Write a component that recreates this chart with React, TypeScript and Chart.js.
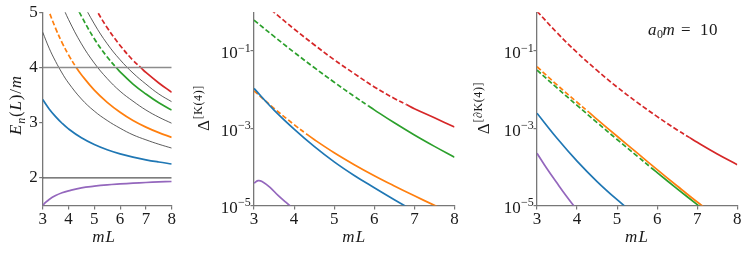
import React, { useEffect, useRef } from 'react';
import { Chart, registerables } from 'chart.js';

Chart.register(...registerables);

// ---------------- data ----------------
const X_TICKS = [3, 4, 5, 6, 7, 8];
const E_TICKS = [2, 3, 4, 5];
const LOG_TICKS = [1e-5, 1e-3, 1e-1];
const THRESHOLDS = [2, 4];
const THRESH_L = [3, 8];
// L where orange / green / red cross the inelastic threshold (dashed before)
const CUT_ORANGE = 4.3;
const CUT_GREEN = 5.85;
const CUT_RED = 6.8;

// Panel 1: E_n(L)/m
const P1_L = [3, 3.25, 3.5, 3.75, 4, 4.5, 5, 5.5, 6, 6.5, 7, 7.5, 8];
const P1_FREE1 = [4.64, 4.35, 4.11, 3.9, 3.72, 3.43, 3.21, 3.04, 2.9, 2.78, 2.69, 2.61, 2.54];
const P1_FREE2 = [6.25, 5.82, 5.46, 5.14, 4.87, 4.43, 4.08, 3.8, 3.57, 3.39, 3.23, 3.1, 2.99];
const P1_FREE3 = [7.53, 6.99, 6.53, 6.14, 5.8, 5.23, 4.79, 4.43, 4.14, 3.9, 3.7, 3.52, 3.38];
const P1_BLUE = [3.42, 3.25, 3.11, 2.99, 2.888, 2.726, 2.604, 2.509, 2.435, 2.376, 2.328, 2.288, 2.252];
const P1_ORANGE_L = [3, 3.25, 3.5, 3.75, 4, 4.3, 4.5, 5, 5.5, 6, 6.5, 7, 7.5, 8];
const P1_ORANGE = [5.36, 5.01, 4.71, 4.45, 4.23, 4.0, 3.87, 3.59, 3.37, 3.19, 3.04, 2.92, 2.82, 2.735];
const P1_GREEN_L = [3.75, 4, 4.25, 4.5, 5, 5.5, 5.85, 6, 6.5, 7, 7.5, 8];
const P1_GREEN = [5.76, 5.45, 5.17, 4.93, 4.52, 4.19, 4.0, 3.92, 3.7, 3.52, 3.36, 3.23];
const P1_RED_L = [4.5, 4.75, 5, 5.5, 6, 6.5, 6.8, 7, 7.5, 8];
const P1_RED = [5.59, 5.34, 5.11, 4.72, 4.4, 4.13, 4.0, 3.91, 3.72, 3.55];
const P1_PURPLE_L = [3, 3.1, 3.25, 3.5, 3.75, 4, 4.5, 5, 5.5, 6, 6.5, 7, 7.5, 8];
const P1_PURPLE = [1.5, 1.55, 1.61, 1.68, 1.73, 1.765, 1.82, 1.85, 1.873, 1.89, 1.905, 1.917, 1.927, 1.935];

// Panel 2: Delta^[K(4)]
const P2_RED_L = [3, 3.5, 4, 4.5, 5, 5.5, 6, 6.5, 6.8, 7, 7.5, 8];
const P2_RED = [2.8, 1.0, 0.37, 0.145, 0.059, 0.026, 0.0117, 0.0059, 0.0041, 0.0032, 0.00186, 0.00107];
const P2_GREEN_L = [3, 3.5, 4, 4.5, 5, 5.5, 5.85, 6, 6.5, 7, 7.5, 8];
const P2_GREEN = [0.63, 0.237, 0.0923, 0.0372, 0.0155, 0.00668, 0.0038, 0.00299, 0.00138, 0.000668, 0.000339, 0.000178];
const P2_BLUE_L = [3, 3.5, 4, 4.5, 5, 5.5, 6, 6.5, 7];
const P2_BLUE = [0.0107, 0.00295, 0.00095, 0.000339, 0.000135, 6.0e-5, 2.88e-5, 1.41e-5, 7.1e-6];
const P2_ORANGE_L = [3, 3.5, 4, 4.3, 4.5, 5, 5.5, 6, 6.5, 7, 7.5, 8];
const P2_ORANGE = [0.0093, 0.00327, 0.00124, 0.00072, 0.00051, 0.000232, 0.000114, 5.9e-5, 3.2e-5, 1.78e-5, 1.01e-5, 5.8e-6];
const P2_PURPLE_L = [3, 3.1, 3.2, 3.4, 3.6, 3.8, 4];
const P2_PURPLE = [3.8e-5, 4.4e-5, 4.2e-5, 2.95e-5, 1.82e-5, 1.2e-5, 7.9e-6];

// Panel 3: Delta^[dK(4)], a0 m = 10
const P3_RED_L = [3, 3.5, 4, 4.5, 5, 5.5, 6, 6.5, 6.8, 7, 7.5, 8];
const P3_RED = [1.07, 0.295, 0.0912, 0.0313, 0.0116, 0.00468, 0.002, 0.000902, 0.00058, 0.000432, 0.000216, 0.000114];
const P3_ORANGE_L = [3, 3.5, 4, 4.3, 4.5, 5, 5.5, 6, 6.5, 7, 7.5];
const P3_ORANGE = [0.039, 0.0132, 0.0047, 0.00257, 0.0017, 0.00062, 0.000229, 8.5e-5, 3.2e-5, 1.23e-5, 5e-6];
const P3_GREEN_L = [3, 3.5, 4, 4.5, 5, 5.5, 5.85, 6, 6.5, 7, 7.5];
const P3_GREEN = [0.032, 0.011, 0.0039, 0.0014, 0.00051, 0.00019, 9.5e-5, 7.1e-5, 2.7e-5, 1.05e-5, 4e-6];
const P3_BLUE_L = [3, 3.5, 4, 4.5, 5, 5.5];
const P3_BLUE = [0.00245, 0.00055, 0.000141, 4.17e-5, 1.41e-5, 5.2e-6];
const P3_PURPLE_L = [3, 3.25, 3.5, 3.75, 4];
const P3_PURPLE = [2.24e-4, 8.9e-5, 3.8e-5, 1.66e-5, 7.6e-6];

// ---------------- styling / layout ----------------
const W = 748;
const H = 255;
const SERIF = '"Liberation Serif", "DejaVu Serif", serif';
const TEXT = '#1a1a1a';
const AXIS = '#777777';
const BLUE = '#1f77b4';
const ORANGE = '#ff7f0e';
const GREEN = '#2ca02c';
const RED = '#d62728';
const PURPLE = '#9467bd';
const DASH = [5, 2.5];
const LW = 1.7;
const FS = 17;
const FS_SMALL = 12;
const PLOT_TOP = 12.3;
const PLOT_BOTTOM = 205.5;
const Y_AXIS_W = 30;
const PANELS = [
  { left: 42.7, right: 171.7 },
  { left: 254, right: 454.5 },
  { left: 537, right: 737.3 },
];

const F = (size: number, italic = false) => `${italic ? 'italic ' : ''}${size}px ${SERIF}`;

type Piece = [string, string, number?];

function drawPieces(ctx: CanvasRenderingContext2D, pieces: Piece[], x: number, y: number, align: 'left' | 'center' | 'right', spacing = 0) {
  const widths = pieces.map(([t, f]) => {
    ctx.font = f;
    return ctx.measureText(t).width + spacing * t.length;
  });
  const total = widths.reduce((a, b) => a + b, 0);
  let cx = align === 'center' ? x - total / 2 : align === 'right' ? x - total : x;
  ctx.textAlign = 'left';
  ctx.textBaseline = 'alphabetic';
  (ctx as any).letterSpacing = `${spacing}px`;
  pieces.forEach(([t, f, dy], i) => {
    ctx.font = f;
    ctx.fillText(t, cx, y + (dy || 0));
    cx += widths[i];
  });
  (ctx as any).letterSpacing = '0px';
}

function drawRotated(ctx: CanvasRenderingContext2D, pieces: Piece[], x: number, y: number, spacing = 0) {
  ctx.save();
  ctx.translate(x, y);
  ctx.rotate(-Math.PI / 2);
  drawPieces(ctx, pieces, 0, 0, 'center', spacing);
  ctx.restore();
}

const pts = (xs: number[], ys: number[]) => xs.map((x, i) => ({ x, y: ys[i] }));

function line(data: any[], color: string, width: number, extra: any = {}) {
  return {
    data,
    borderColor: color,
    backgroundColor: color,
    borderWidth: width,
    pointRadius: 0,
    fill: false,
    cubicInterpolationMode: 'default',
    tension: 0.4,
    clip: 0,
    ...extra,
  };
}

const dashBeforeL = (cut: number) => ({
  segment: { borderDash: (c: any) => (c.p1.parsed.x <= cut + 1e-9 ? DASH : undefined) },
});

function xScale() {
  return {
    type: 'linear',
    min: 3,
    max: 8,
    afterBuildTicks: (s: any) => {
      s.ticks = X_TICKS.map((v) => ({ value: v }));
    },
    afterFit: (s: any) => {
      s.height = H - PLOT_BOTTOM;
    },
    ticks: { font: { family: SERIF, size: FS }, color: TEXT, padding: 0, maxRotation: 0, autoSkip: false },
    grid: { drawOnChartArea: false, drawTicks: true, tickLength: 4, color: AXIS, lineWidth: 1.2 },
    border: { display: true, color: AXIS, width: 1.3 },
  };
}

function baseOptions(panel: { left: number; right: number }, yScale: any) {
  return {
    responsive: false,
    animation: false,
    devicePixelRatio: 1,
    events: [],
    layout: {
      autoPadding: false,
      padding: { left: panel.left - Y_AXIS_W, right: W - panel.right, top: PLOT_TOP, bottom: 0 },
    },
    plugins: { legend: { display: false }, tooltip: { enabled: false } },
    scales: { x: xScale(), y: yScale },
  };
}

function logYScale() {
  return {
    type: 'logarithmic',
    min: 1e-5,
    max: 1,
    afterBuildTicks: (s: any) => {
      s.ticks = LOG_TICKS.map((v) => ({ value: v }));
    },
    afterFit: (s: any) => {
      s.width = Y_AXIS_W;
    },
    ticks: { callback: () => '', padding: 0 },
    grid: { drawOnChartArea: false, drawTicks: true, tickLength: 3.5, color: AXIS, lineWidth: 1.2 },
    border: { display: true, color: AXIS, width: 1.3 },
  };
}

function drawLogTicks(chart: any) {
  const ctx = chart.ctx as CanvasRenderingContext2D;
  const y = chart.scales.y;
  const left = chart.chartArea.left;
  ctx.fillStyle = TEXT;
  LOG_TICKS.forEach((v) => {
    const py = y.getPixelForValue(v);
    const exp = Math.round(Math.log10(v));
    const sup = (exp < 0 ? '\u2212' : '') + String(Math.abs(exp));
    ctx.font = F(FS_SMALL);
    const supW = ctx.measureText(sup).width;
    const end = left - 3.2;
    drawPieces(ctx, [['10', F(FS)]], end - supW - 0.3, py + 7.5, 'right');
    drawPieces(ctx, [[sup, F(FS_SMALL)]], end - supW, py + 0.8, 'left');
  });
}

function drawXTitle(chart: any, dx = 0) {
  const ctx = chart.ctx as CanvasRenderingContext2D;
  const a = chart.chartArea;
  ctx.fillStyle = TEXT;
  drawPieces(ctx, [['mL', F(FS, true)]], (a.left + a.right) / 2 + dx, 241.5, 'center', 1.2);
}

function makeConfigs() {
  const cfg1 = {
    type: 'line',
    data: {
      datasets: [
        line(pts(THRESH_L, [THRESHOLDS[1], THRESHOLDS[1]]), '#8c8c8c', 1.6, { tension: 0 }),
        line(pts(THRESH_L, [THRESHOLDS[0], THRESHOLDS[0]]), '#2a2a2a', 1.0, { tension: 0 }),
        line(pts(P1_L, P1_FREE1), '#333333', 0.8),
        line(pts(P1_L, P1_FREE2), '#333333', 0.8),
        line(pts(P1_L, P1_FREE3), '#333333', 0.8),
        line(pts(P1_L, P1_BLUE), BLUE, LW),
        line(pts(P1_ORANGE_L, P1_ORANGE), ORANGE, LW, dashBeforeL(CUT_ORANGE)),
        line(pts(P1_GREEN_L, P1_GREEN), GREEN, LW, dashBeforeL(CUT_GREEN)),
        line(pts(P1_RED_L, P1_RED), RED, LW, dashBeforeL(CUT_RED)),
        line(pts(P1_PURPLE_L, P1_PURPLE), PURPLE, LW),
      ],
    },
    options: baseOptions(PANELS[0], {
      type: 'linear',
      min: 1.5,
      max: 5,
      afterBuildTicks: (s: any) => {
        s.ticks = E_TICKS.map((v) => ({ value: v }));
      },
      afterFit: (s: any) => {
        s.width = Y_AXIS_W;
      },
      ticks: { font: { family: SERIF, size: FS }, color: TEXT, padding: 1.5 },
      grid: { drawOnChartArea: false, drawTicks: true, tickLength: 3.5, color: AXIS, lineWidth: 1.2 },
      border: { display: true, color: AXIS, width: 1.3 },
    }),
    plugins: [
      {
        id: 'p1text',
        afterDraw(chart: any) {
          const ctx = chart.ctx as CanvasRenderingContext2D;
          ctx.fillStyle = TEXT;
          drawRotated(
            ctx,
            [
              ['E', F(FS, true)],
              ['n', F(FS_SMALL, true), 3.5],
              ['(', F(FS)],
              ['L', F(FS, true)],
              [')/', F(FS)],
              ['m', F(FS, true)],
            ],
            21,
            105,
            0.8
          );
          drawXTitle(chart, -3);
        },
      },
    ],
  };

  const cfg2 = {
    type: 'line',
    data: {
      datasets: [
        line(pts(P2_BLUE_L, P2_BLUE), BLUE, LW),
        line(pts(P2_ORANGE_L, P2_ORANGE), ORANGE, LW, dashBeforeL(CUT_ORANGE)),
        line(pts(P2_GREEN_L, P2_GREEN), GREEN, LW, dashBeforeL(CUT_GREEN)),
        line(pts(P2_RED_L, P2_RED), RED, LW, dashBeforeL(CUT_RED)),
        line(pts(P2_PURPLE_L, P2_PURPLE), PURPLE, LW),
      ],
    },
    options: baseOptions(PANELS[1], logYScale()),
    plugins: [
      {
        id: 'p2text',
        afterDraw(chart: any) {
          const ctx = chart.ctx as CanvasRenderingContext2D;
          drawLogTicks(chart);
          ctx.fillStyle = TEXT;
          drawRotated(ctx, [['\u0394', F(FS)], ['[K(4)]', F(FS_SMALL), -6.5]], 208.5, 108, 0.6);
          drawXTitle(chart);
        },
      },
    ],
  };

  const cfg3 = {
    type: 'line',
    data: {
      datasets: [
        line(pts(P3_BLUE_L, P3_BLUE), BLUE, LW),
        line(pts(P3_ORANGE_L, P3_ORANGE), ORANGE, LW, dashBeforeL(CUT_ORANGE)),
        line(pts(P3_GREEN_L, P3_GREEN), GREEN, LW, dashBeforeL(CUT_GREEN)),
        line(pts(P3_RED_L, P3_RED), RED, LW, dashBeforeL(CUT_RED)),
        line(pts(P3_PURPLE_L, P3_PURPLE), PURPLE, LW),
      ],
    },
    options: baseOptions(PANELS[2], logYScale()),
    plugins: [
      {
        id: 'p3text',
        afterDraw(chart: any) {
          const ctx = chart.ctx as CanvasRenderingContext2D;
          drawLogTicks(chart);
          ctx.fillStyle = TEXT;
          drawRotated(ctx, [['\u0394', F(FS)], ['[\u2202K(4)]', F(FS_SMALL), -6.5]], 488.5, 108, 0.6);
          // annotation a0 m = 10
          ctx.textAlign = 'left';
          ctx.textBaseline = 'alphabetic';
          ctx.font = F(FS, true);
          ctx.fillText('a', 648, 35);
          ctx.font = F(FS_SMALL);
          ctx.fillText('0', 657, 38);
          ctx.font = F(FS, true);
          ctx.fillText('m', 662.5, 35);
          ctx.font = F(FS);
          ctx.fillText('=', 681, 35);
          (ctx as any).letterSpacing = '0.5px';
          ctx.fillText('10', 700, 35);
          (ctx as any).letterSpacing = '0px';
          drawXTitle(chart);
        },
      },
    ],
  };
  return [cfg1, cfg2, cfg3];
}

export default function App() {
  const r1 = useRef<HTMLCanvasElement>(null);
  const r2 = useRef<HTMLCanvasElement>(null);
  const r3 = useRef<HTMLCanvasElement>(null);

  useEffect(() => {
    Chart.defaults.font.family = SERIF;
    const cfgs = makeConfigs();
    const refs = [r1, r2, r3];
    const charts = refs.map((r, i) => new Chart(r.current as HTMLCanvasElement, cfgs[i] as any));
    return () => charts.forEach((c) => c.destroy());
  }, []);

  const cs: React.CSSProperties = { position: 'absolute', left: 0, top: 0, width: W, height: H };
  return (
    <div style={{ position: 'fixed', left: 0, top: 0, width: W, height: H, background: '#ffffff', overflow: 'hidden' }}>
      <canvas ref={r1} width={W} height={H} style={cs} />
      <canvas ref={r2} width={W} height={H} style={cs} />
      <canvas ref={r3} width={W} height={H} style={cs} />
    </div>
  );
}
